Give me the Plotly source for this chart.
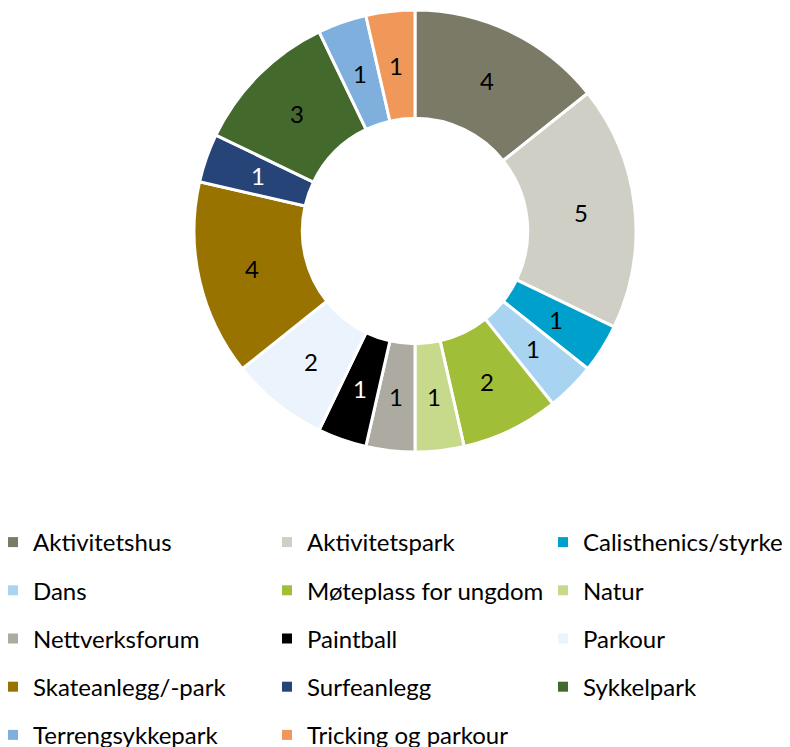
import math
import plotly.graph_objects as go

labels = ["Aktivitetshus", "Aktivitetspark", "Calisthenics/styrke", "Dans",
          "Møteplass for ungdom", "Natur", "Nettverksforum", "Paintball",
          "Parkour", "Skateanlegg/-park", "Surfeanlegg", "Sykkelpark",
          "Terrengsykkepark", "Tricking og parkour"]
values = [4, 5, 1, 1, 2, 1, 1, 1, 2, 4, 1, 3, 1, 1]
colors = ["#7A7A67", "#D0CFC5", "#00A0CC", "#A8D4F2", "#A1BE38", "#C7D98A",
          "#ADABA1", "#000000", "#EBF4FC", "#997300", "#264478", "#436A2C",
          "#7FB0DD", "#F0975A"]
text_colors = ["black", "black", "black", "black", "black", "black", "black",
               "white", "black", "black", "white", "black", "black", "black"]

FONT = "Lato"
FS = 24
OFF = 8               # page body margin in the browser
W, H = 790 - OFF, 747 - OFF
HOLE = 0.51

# pie box in page pixels
PX0, PX1, PY0, PY1 = 193, 637, 10, 452


def px_x(p):
    return (p - OFF) / W


def px_y(p):
    return 1 - (p - OFF) / H


fig = go.Figure()
fig.add_trace(go.Pie(
    labels=labels, values=values, sort=False, direction="clockwise",
    rotation=0, hole=HOLE,
    marker=dict(colors=colors, line=dict(color="white", width=3)),
    textinfo="none",
    showlegend=False,
    domain=dict(x=[px_x(PX0), px_x(PX1)], y=[px_y(PY1), px_y(PY0)]),
))

# value labels at the middle of the ring, derived from the values
cx, cy = (PX0 + PX1) / 2, (PY0 + PY1) / 2
R = min(PX1 - PX0, PY1 - PY0) / 2
rmid = R * (1 + HOLE) / 2
total = sum(values)
cum = 0
for v, tc in zip(values, text_colors):
    ang = 2 * math.pi * (cum + v / 2) / total
    cum += v
    fig.add_annotation(
        x=px_x(cx + rmid * math.sin(ang)), y=px_y(cy - rmid * math.cos(ang)),
        xref="paper", yref="paper", text=str(v), showarrow=False,
        xanchor="center", yanchor="middle",
        font=dict(family=FONT, size=FS, color=tc),
    )

# legend: three columns, one vertical legend per column
for i, (lab, col) in enumerate(zip(labels, colors)):
    c = i % 3
    lg = "legend" if c == 0 else f"legend{c + 1}"
    fig.add_trace(go.Scatter(
        x=[None], y=[None], mode="markers", name=lab,
        marker=dict(symbol="square", size=10, color=col),
        legend=lg, legendgroup=f"g{i}", showlegend=True, hoverinfo="skip",
    ))

col_text_x = [33, 307, 583]
legend_common = dict(
    orientation="v", tracegroupgap=14,
    yanchor="top", y=px_y(520), xanchor="left",
    font=dict(family=FONT, size=FS, color="black"),
    bgcolor="rgba(0,0,0,0)", itemclick=False, itemdoubleclick=False,
)
layout_legends = {}
for c, tx in enumerate(col_text_x):
    key = "legend" if c == 0 else f"legend{c + 1}"
    layout_legends[key] = dict(legend_common, x=(tx - OFF - 40) / W)

fig.update_layout(
    width=W, height=H,
    margin=dict(l=0, r=0, t=0, b=0, autoexpand=False),
    paper_bgcolor="white", plot_bgcolor="white",
    xaxis=dict(visible=False), yaxis=dict(visible=False),
    **layout_legends,
)

fig.write_html("out.html")
